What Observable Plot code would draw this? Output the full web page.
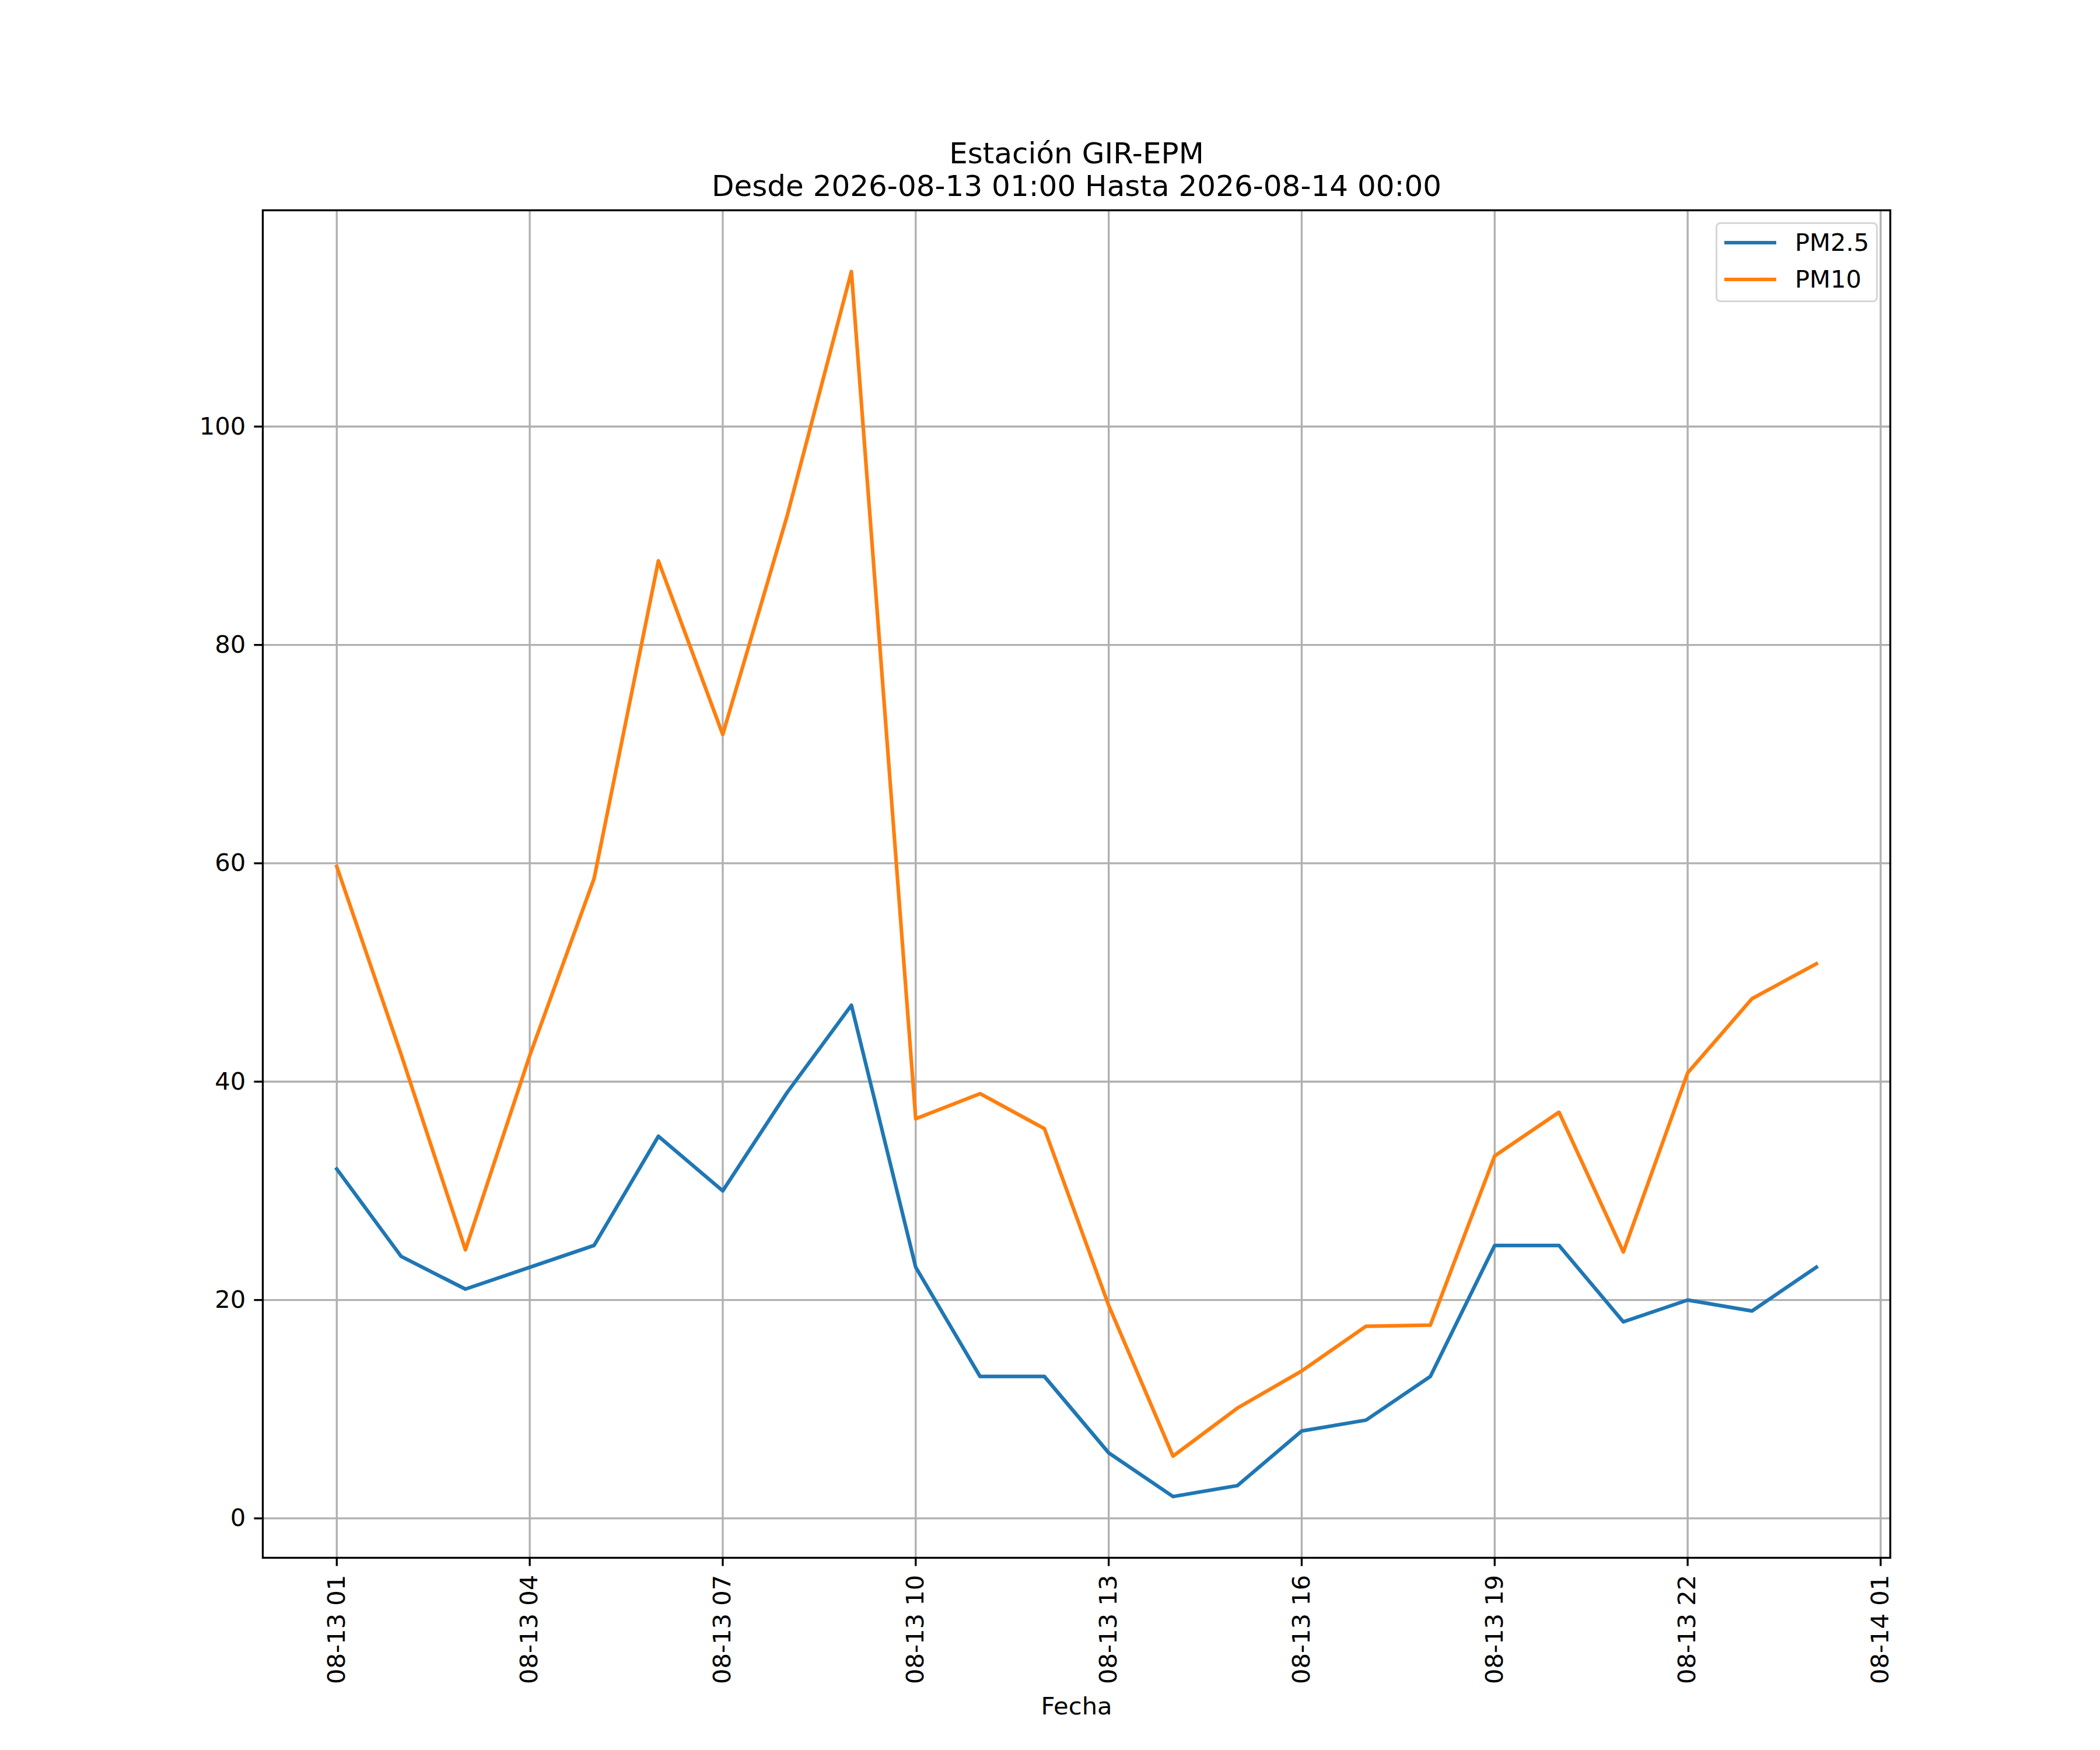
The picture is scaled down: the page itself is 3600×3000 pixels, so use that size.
<!DOCTYPE html>
<html>
<head>
<meta charset="utf-8">
<script src="https://cdn.jsdelivr.net/npm/d3@7"></script>
<script src="https://cdn.jsdelivr.net/npm/@observablehq/plot@0.6"></script>
<style>
  html, body { margin: 0; padding: 0; background: #ffffff; }
  #wrap { position: relative; width: 3600px; height: 3000px; background: #ffffff; font-family: "DejaVu Sans", sans-serif; color: #000; }
  #wrap svg { position: absolute; left: 0; top: 0; }
  #legend { position: absolute; left: 2941px; top: 381px; width: 278px; height: 137px; box-sizing: border-box;
            border: 3.3px solid #d6d6d6; border-radius: 8px; background: rgba(255,255,255,0.8); }
  .lg-line { position: absolute; height: 6.25px; width: 89px; left: 12px; }
  .lg-text { position: absolute; left: 133px; font-size: 41.67px; line-height: 1; white-space: nowrap; }
</style>
</head>
<body>
<div id="wrap"></div>
<script>
// ---- data ----
const times = [
  "2026-08-13T01:00:00Z","2026-08-13T02:00:00Z","2026-08-13T03:00:00Z","2026-08-13T04:00:00Z",
  "2026-08-13T05:00:00Z","2026-08-13T06:00:00Z","2026-08-13T07:00:00Z","2026-08-13T08:00:00Z",
  "2026-08-13T09:00:00Z","2026-08-13T10:00:00Z","2026-08-13T11:00:00Z","2026-08-13T12:00:00Z",
  "2026-08-13T13:00:00Z","2026-08-13T14:00:00Z","2026-08-13T15:00:00Z","2026-08-13T16:00:00Z",
  "2026-08-13T17:00:00Z","2026-08-13T18:00:00Z","2026-08-13T19:00:00Z","2026-08-13T20:00:00Z",
  "2026-08-13T21:00:00Z","2026-08-13T22:00:00Z","2026-08-13T23:00:00Z","2026-08-14T00:00:00Z"
];
const pm25 = [32, 24, 21, 23, 25, 35, 30, 39, 47, 23, 13, 13, 6, 2, 3, 8, 9, 13, 25, 25, 18, 20, 19, 23];
const pm10 = [59.7, 42.5, 24.6, 42.4, 58.6, 87.7, 71.8, 91.8, 114.2, 36.6, 38.9, 35.7, 19.5, 5.7, 10.1, 13.5, 17.6, 17.7, 33.2, 37.2, 24.4, 40.8, 47.6, 50.8];
const seriesNames = ["PM2.5", "PM10"];
const seriesColors = ["#1f77b4", "#ff7f0e"];
const xTickTimes = [
  "2026-08-13T01:00:00Z","2026-08-13T04:00:00Z","2026-08-13T07:00:00Z","2026-08-13T10:00:00Z",
  "2026-08-13T13:00:00Z","2026-08-13T16:00:00Z","2026-08-13T19:00:00Z","2026-08-13T22:00:00Z",
  "2026-08-14T01:00:00Z"
];
const yTicks = [0, 20, 40, 60, 80, 100];
const titleLines = ["Estación GIR-EPM", "Desde 2026-08-13 01:00 Hasta 2026-08-14 00:00"];
const xLabel = "Fecha";

// ---- build ----
const dates = times.map(t => new Date(t));
const xTicks = xTickTimes.map(t => new Date(t));
const rows = [];
dates.forEach((d, i) => {
  rows.push({date: d, value: pm25[i], series: seriesNames[0]});
  rows.push({date: d, value: pm10[i], series: seriesNames[1]});
});
const [t0, t1] = d3.extent(dates);
const tPad = (t1 - t0) * 0.05;
const [v0, v1] = d3.extent(rows, r => r.value);
const vPad = (v1 - v0) * 0.05;

const lw = 6.25, thin = 3.33, tick = 14.6;

const chart = Plot.plot({
  width: 3600,
  height: 3000,
  marginLeft: 450,
  marginRight: 360,
  marginTop: 360,
  marginBottom: 330,
  style: {fontFamily: '"DejaVu Sans", sans-serif', fontSize: "41.67px", color: "#000", background: "transparent", overflow: "visible"},
  x: {type: "utc", domain: [new Date(+t0 - tPad), new Date(+t1 + tPad)]},
  y: {domain: [v0 - vPad, v1 + vPad]},
  color: {domain: seriesNames, range: seriesColors},
  marks: [
    Plot.gridX(xTicks, {stroke: "#b0b0b0", strokeOpacity: 1, strokeWidth: thin}),
    Plot.gridY(yTicks, {stroke: "#b0b0b0", strokeOpacity: 1, strokeWidth: thin}),
    Plot.line(rows, {x: "date", y: "value", z: "series", stroke: "series", strokeWidth: lw, strokeLinejoin: "round", strokeLinecap: "square"}),
    Plot.frame({stroke: "#000", strokeWidth: thin}),
    Plot.axisX({ticks: xTicks, tickFormat: d3.utcFormat("%m-%d %H"), tickRotate: -90, tickSize: tick, tickPadding: tick, strokeWidth: thin, label: null, fontSize: 41.67}),
    Plot.axisY({ticks: yTicks, tickSize: tick, tickPadding: tick, strokeWidth: thin, label: null, fontSize: 41.67}),
    Plot.text([xLabel], {text: d => d, frameAnchor: "bottom", dy: 268, lineAnchor: "bottom", fontSize: 41.67, fill: "#000"}),
    Plot.text([titleLines[0]], {text: d => d, frameAnchor: "top", dy: -81, lineAnchor: "bottom", fontSize: 50, fill: "#000"}),
    Plot.text([titleLines[1]], {text: d => d, frameAnchor: "top", dy: -25, lineAnchor: "bottom", fontSize: 50, fill: "#000"})
  ]
});

const wrap = document.getElementById("wrap");
wrap.appendChild(chart);

// legend (matplotlib style, upper right)
const legend = document.createElement("div");
legend.id = "legend";
seriesNames.forEach((name, i) => {
  const line = document.createElement("div");
  line.className = "lg-line";
  line.style.background = seriesColors[i];
  line.style.top = (32 + i * 63 - 3) + "px";
  legend.appendChild(line);
  const txt = document.createElement("div");
  txt.className = "lg-text";
  txt.textContent = name;
  txt.style.top = (11 + i * 63) + "px";
  legend.appendChild(txt);
});
wrap.appendChild(legend);
</script>
</body>
</html>
